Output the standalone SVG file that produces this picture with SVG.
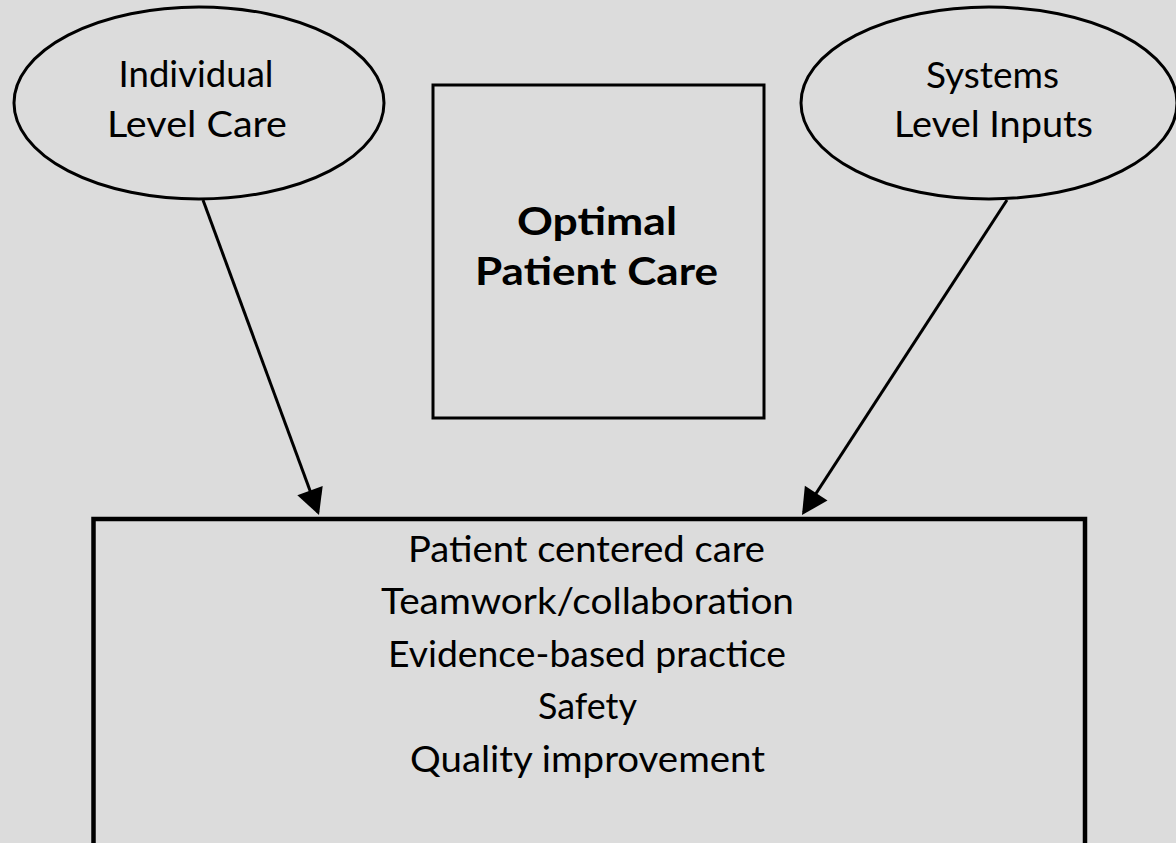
<svg xmlns="http://www.w3.org/2000/svg" width="1176" height="843" viewBox="0 0 1176 843">
  <style>
    .shape { fill: none; stroke: #000; stroke-width: 3; }
    .box { fill: none; stroke: #000; stroke-width: 4.5; }
    .label { font-family: Lato, "Liberation Sans", sans-serif; font-size: 37px; fill: #000; text-anchor: middle; }
    .title { font-family: Lato, "Liberation Sans", sans-serif; font-size: 39px; font-weight: bold; fill: #000; text-anchor: middle; }
    .conn { stroke: #000; stroke-width: 3; fill: none; }
  </style>
  <defs>
    <marker id="head" viewBox="0 0 26 27" refX="23" refY="13.5" markerWidth="26" markerHeight="27" markerUnits="userSpaceOnUse" orient="auto" overflow="visible">
      <path d="M0,0 L26,13.5 L0,27 z" fill="#000"/>
    </marker>
  </defs>
  <rect width="1176" height="843" fill="#dcdcdc"/>

  <g id="individual-level-care">
    <ellipse class="shape" cx="199" cy="103" rx="185" ry="96"/>
    <text class="label" x="196" y="87" textLength="155" lengthAdjust="spacingAndGlyphs">Individual</text>
    <text class="label" x="197" y="137" textLength="180" lengthAdjust="spacingAndGlyphs">Level Care</text>
  </g>

  <g id="systems-level-inputs">
    <ellipse class="shape" cx="989" cy="103" rx="188" ry="96"/>
    <text class="label" x="992.5" y="88" textLength="133" lengthAdjust="spacingAndGlyphs">Systems</text>
    <text class="label" x="993.5" y="137" textLength="199" lengthAdjust="spacingAndGlyphs">Level Inputs</text>
  </g>

  <g id="optimal-patient-care">
    <rect class="shape" x="433" y="85" width="331" height="333"/>
    <text class="title" x="597" y="235" textLength="160" lengthAdjust="spacingAndGlyphs">Optimal</text>
    <text class="title" x="596.5" y="285" textLength="243" lengthAdjust="spacingAndGlyphs">Patient Care</text>
  </g>

  <g id="core-competencies">
    <rect class="box" x="93.5" y="519" width="991.5" height="360"/>
    <text class="label" x="586.5" y="562" textLength="357" lengthAdjust="spacingAndGlyphs">Patient centered care</text>
    <text class="label" x="587.5" y="614" textLength="413" lengthAdjust="spacingAndGlyphs">Teamwork/collaboration</text>
    <text class="label" x="587" y="667" textLength="398" lengthAdjust="spacingAndGlyphs">Evidence-based practice</text>
    <text class="label" x="587.5" y="719" textLength="99" lengthAdjust="spacingAndGlyphs">Safety</text>
    <text class="label" x="587.5" y="772" textLength="355" lengthAdjust="spacingAndGlyphs">Quality improvement</text>
  </g>

  <g id="connectors">
    <line class="conn" x1="203" y1="200" x2="317.96" y2="512.18" marker-end="url(#head)"/>
    <line class="conn" x1="1007" y1="200" x2="803.64" y2="512.49" marker-end="url(#head)"/>
  </g>
</svg>
